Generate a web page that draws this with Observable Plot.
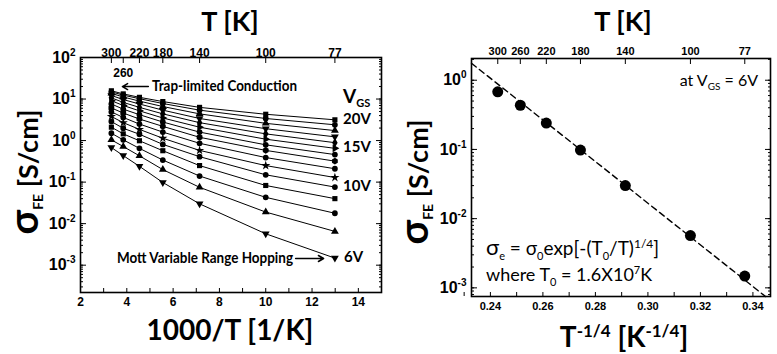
<!DOCTYPE html>
<html><head><meta charset="utf-8">
<script src="https://cdn.jsdelivr.net/npm/d3@7"></script>
<script src="https://cdn.jsdelivr.net/npm/@observablehq/plot@0.6"></script>
<style>
body{margin:0;background:#fff;}
#wrap{position:relative;width:777px;height:354px;overflow:hidden;background:#fff;}
#left{position:absolute;left:0;top:0;}
#right{position:absolute;left:390px;top:0;}
</style></head><body><div id="wrap"><div id="left"></div><div id="right"></div></div>
<script>
// ---------- data ----------
const T_K = [300, 260, 220, 180, 140, 100, 77];
const vgsLevels = [20, 19, 18, 17, 16, 15, 14, 13, 12, 11, 10, 9, 8, 7, 6];
const sigma_20V = [15.8, 13.3, 11.0, 8.7, 6.3, 4.3, 3.16];
const sigma_19V = [14.9, 12.4, 10.2, 7.8, 5.4, 3.4, 2.4];
const sigma_18V = [13.7, 11.2, 8.9, 6.6, 4.4, 2.6, 1.74];
const sigma_17V = [12.2, 9.7, 7.6, 5.4, 3.4, 1.93, 1.23];
const sigma_16V = [10.7, 8.3, 6.3, 4.4, 2.7, 1.45, 0.89];
const sigma_15V = [9.1, 7.0, 5.2, 3.5, 2.1, 1.08, 0.65];
const sigma_14V = [7.6, 5.7, 4.2, 2.8, 1.6, 0.79, 0.46];
const sigma_13V = [6.1, 4.6, 3.3, 2.2, 1.2, 0.58, 0.32];
const sigma_12V = [4.9, 3.6, 2.5, 1.6, 0.86, 0.39, 0.21];
const sigma_11V = [3.8, 2.7, 1.86, 1.14, 0.58, 0.25, 0.129];
const sigma_10V = [2.87, 1.98, 1.42, 0.81, 0.41, 0.15, 0.076];
const sigma_9V  = [2.1, 1.45, 0.99, 0.57, 0.25, 0.083, 0.040];
const sigma_8V  = [1.5, 1.04, 0.65, 0.34, 0.14, 0.043, 0.0178];
const sigma_7V  = [1.04, 0.72, 0.43, 0.20, 0.075, 0.019, 0.0065];
const sigma_6V  = [0.68, 0.435, 0.24, 0.098, 0.030, 0.0057, 0.00148];
const sigmaByVgs = [sigma_20V, sigma_19V, sigma_18V, sigma_17V, sigma_16V, sigma_15V, sigma_14V,
  sigma_13V, sigma_12V, sigma_11V, sigma_10V, sigma_9V, sigma_8V, sigma_7V, sigma_6V];

// right panel: T^-1/4 positions, sigma at VGS = 6 V
const mottX = [0.2428, 0.2514, 0.2613, 0.2743, 0.2914, 0.3162, 0.3369];
const mottSigma = [0.68, 0.435, 0.24, 0.098, 0.030, 0.0057, 0.00148];
const fitX = [0.2328, 0.3448];
const fitSigma = [1.76, 0.00075];

// tick labels
const leftBottomTicks = [2, 4, 6, 8, 10, 12, 14];
const rightBottomTicks = [0.24, 0.26, 0.28, 0.30, 0.32, 0.34];
const leftDecades = [1e-3, 1e-2, 1e-1, 1, 10, 100];
const rightDecades = [1e-3, 1e-2, 1e-1, 1];

// annotation arrows (data coordinates)
const trapArrow = [{x1: 4.93, x2: 3.81, y: 20}];
const mottArrow = [{x1: 11.29, x2: 12.5, y: 0.00145}];

// ---------- helpers ----------
const s3 = Math.sqrt(3);
const triDown = {draw(c, size) { const y = -Math.sqrt(size / (s3 * 3)); c.moveTo(0, -2 * y); c.lineTo(-s3 * y, y); c.lineTo(s3 * y, y); c.closePath(); }};
const triRight = {draw(c, size) { const y = -Math.sqrt(size / (s3 * 3)); c.moveTo(-2 * y, 0); c.lineTo(y, -s3 * y); c.lineTo(y, s3 * y); c.closePath(); }};
const symbolList = ["square", "circle", "triangle", triDown, "diamond", triRight, "circle", "hexagon",
  "circle", "star", "circle", "square", "circle", "triangle", triDown];

function minorLog(lo, hi) {
  const out = [];
  for (let e = -5; e <= 3; e++) for (let m = 1; m <= 9; m++) {
    const v = m * Math.pow(10, e);
    if (v >= lo && v <= hi) out.push(v);
  }
  return out;
}
const supFmt = d => "10^" + Math.round(Math.log10(d));

function supify(svg, size, supSize, up) {
  d3.select(svg).selectAll("text").each(function () {
    const t = d3.select(this);
    const s = t.text();
    if (!s.startsWith("10^")) return;
    const e = s.slice(3);
    t.text(null).attr("font-size", size);
    t.append("tspan").text("10");
    t.append("tspan").attr("font-size", supSize).attr("dy", -up).text(e);
  });
}
function label(svg, x, y, parts, o = {}) {
  const t = d3.select(svg).append("text")
    .attr("x", x).attr("y", y)
    .attr("text-anchor", o.anchor || "start")
    .attr("font-family", o.family || "Lato, 'Liberation Sans', sans-serif")
    .attr("font-weight", o.weight || "bold")
    .attr("fill", "black");
  if (o.rotate) t.attr("transform", `rotate(${o.rotate},${x},${y})`);
  if (o.textLength) t.attr("textLength", o.textLength).attr("lengthAdjust", "spacingAndGlyphs");
  for (const [s, size, dy] of parts) {
    const sp = t.append("tspan").attr("font-size", size).text(s);
    if (dy) sp.attr("dy", dy);
  }
  return t;
}

const tickFont = {fontFamily: "'Liberation Sans', Arial, sans-serif", fontSize: "12px", fontWeight: "bold", color: "black", background: "white", overflow: "visible"};

// ---------- left panel ----------
const rows = vgsLevels.flatMap((v, i) => T_K.map((t, j) => ({vgs: v, x: 1000 / t, sigma: sigmaByVgs[i][j]})));
const leftYMinor = minorLog(2.2e-4, 100);

const left = Plot.plot({
  width: 390, height: 354,
  marginLeft: 80, marginRight: 9, marginTop: 57, marginBottom: 62,
  x: {domain: [2, 15]},
  y: {type: "log", domain: [2.2e-4, 100]},
  symbol: {type: "ordinal", domain: vgsLevels, range: symbolList},
  style: tickFont,
  marks: [
    Plot.line(rows, {x: "x", y: "sigma", z: "vgs", stroke: "black", strokeWidth: 1}),
    Plot.dot(rows, {x: "x", y: "sigma", symbol: "vgs", fill: "black", stroke: "none", r: 2.9}),
    Plot.arrow(trapArrow, {x1: "x1", x2: "x2", y1: "y", y2: "y", stroke: "black", strokeWidth: 1.5, headLength: 6}),
    Plot.arrow(mottArrow, {x1: "x1", x2: "x2", y1: "y", y2: "y", stroke: "black", strokeWidth: 1.5, headLength: 6}),
    // ticks inward
    Plot.axisX({anchor: "bottom", ticks: d3.range(2, 16, 1), tickSize: -4, tickFormat: () => "", label: null}),
    Plot.axisX({anchor: "top", ticks: T_K.map(t => 1000 / t), tickSize: -5, tickFormat: () => "", label: null}),
    Plot.axisY({anchor: "left", ticks: leftYMinor, tickSize: -3, tickFormat: () => "", label: null}),
    Plot.axisY({anchor: "right", ticks: leftYMinor, tickSize: -3, tickFormat: () => "", label: null}),
    Plot.axisY({anchor: "left", ticks: leftDecades, tickSize: -6, tickFormat: () => "", label: null}),
    Plot.axisY({anchor: "right", ticks: leftDecades, tickSize: -6, tickFormat: () => "", label: null}),
    // labels
    Plot.axisX({anchor: "bottom", ticks: leftBottomTicks, tickSize: 0, tickPadding: 5, tickFormat: d3.format("d"), label: null}),
    Plot.axisX({anchor: "top", ticks: T_K.filter(t => t !== 260).map(t => 1000 / t), tickSize: 0, tickPadding: 1,
      tickFormat: d => String(Math.round(1000 / d)), label: null}),
    Plot.text([260], {x: t => 1000 / t, frameAnchor: "top", dy: 11, text: d => String(d), fontSize: 12, fontWeight: "bold"}),
    Plot.axisY({anchor: "left", ticks: leftDecades, tickSize: 0, tickPadding: 5, tickFormat: supFmt, label: null}),
    Plot.frame({stroke: "black", strokeWidth: 1.6})
  ]
});
document.getElementById("left").appendChild(left);
supify(left, 16, 10, 7);

label(left, 230, 31, [["T [K]", 27]], {anchor: "middle"});
label(left, 230, 340, [["1000/T [1/K]", 28]], {anchor: "middle"});
label(left, 38, 172, [["σ", 40], ["FE", 14, 5], [" [S/cm]", 27, -5]], {anchor: "middle", rotate: -90});
label(left, 152, 91, [["Trap-limited Conduction", 15]], {textLength: 145});
label(left, 117, 263, [["Mott Variable Range Hopping", 15]], {textLength: 176});
label(left, 343, 103, [["V", 19], ["GS", 11, 4]]);
label(left, 343, 124, [["20V", 15]]);
label(left, 343, 152, [["15V", 15]]);
label(left, 343, 191, [["10V", 15]]);
label(left, 344, 262, [["6V", 15]]);

// ---------- right panel ----------
const mott = mottX.map((x, i) => ({x, sigma: mottSigma[i], T: T_K[i]}));
const fit = fitX.map((x, i) => ({x, sigma: fitSigma[i]}));
const rightYMinor = minorLog(7.5e-4, 2.06);

const right = Plot.plot({
  width: 387, height: 354,
  marginLeft: 81, marginRight: 7, marginTop: 58, marginBottom: 58,
  x: {domain: [0.2328, 0.3467]},
  y: {type: "log", domain: [7.5e-4, 2.06]},
  style: {...tickFont, fontSize: "11px"},
  marks: [
    Plot.line(fit, {x: "x", y: "sigma", stroke: "black", strokeWidth: 1.4, strokeDasharray: "6,4"}),
    Plot.dot(mott, {x: "x", y: "sigma", fill: "black", stroke: "none", r: 5.5}),
    Plot.axisX({anchor: "bottom", ticks: d3.range(0.23, 0.3501, 0.01), tickSize: -4, tickFormat: () => "", label: null}),
    Plot.axisX({anchor: "top", ticks: mottX, tickSize: -5, tickFormat: () => "", label: null}),
    Plot.axisY({anchor: "left", ticks: rightYMinor, tickSize: -3, tickFormat: () => "", label: null}),
    Plot.axisY({anchor: "right", ticks: rightYMinor, tickSize: -3, tickFormat: () => "", label: null}),
    Plot.axisY({anchor: "left", ticks: rightDecades, tickSize: -6, tickFormat: () => "", label: null}),
    Plot.axisY({anchor: "right", ticks: rightDecades, tickSize: -6, tickFormat: () => "", label: null}),
    Plot.axisX({anchor: "bottom", ticks: rightBottomTicks, tickSize: 0, tickPadding: 6, tickFormat: d3.format(".2f"), label: null}),
    Plot.axisX({anchor: "top", ticks: mottX, tickSize: 0, tickPadding: 4, tickFormat: (d, i) => String(T_K[i]), label: null}),
    Plot.axisY({anchor: "left", ticks: rightDecades, tickSize: 0, tickPadding: 5, tickFormat: supFmt, label: null}),
    Plot.frame({stroke: "black", strokeWidth: 1.6})
  ]
});
document.getElementById("right").appendChild(right);
supify(right, 16, 10, 7);

label(right, 233, 31, [["T [K]", 27]], {anchor: "middle"});
label(right, 234, 347, [["T", 28], ["-1/4", 17, -10], [" [K", 28, 10], ["-1/4", 17, -10], ["]", 28, 10]], {anchor: "middle"});
label(right, 38, 182, [["σ", 40], ["FE", 14, 5], [" [S/cm]", 27, -5]], {anchor: "middle", rotate: -90});
label(right, 368, 86, [["at V", 16], ["GS", 10, 4], [" = 6V", 16, -4]], {anchor: "end", weight: "normal"});
label(right, 96, 255, [["σ", 22], ["e", 11, 5], [" = σ", 19, -5], ["0", 11, 5], ["exp[-(T", 19, -5], ["0", 11, 5], ["/T)", 19, -5], ["1/4", 12, -7], ["]", 19, 7]], {weight: "normal"});
label(right, 96, 281, [["where T", 18], ["0", 11, 5], [" = 1.6X10", 18, -5], ["7", 11, -7], ["K", 18, 7]], {weight: "normal"});
</script>
</body></html>
